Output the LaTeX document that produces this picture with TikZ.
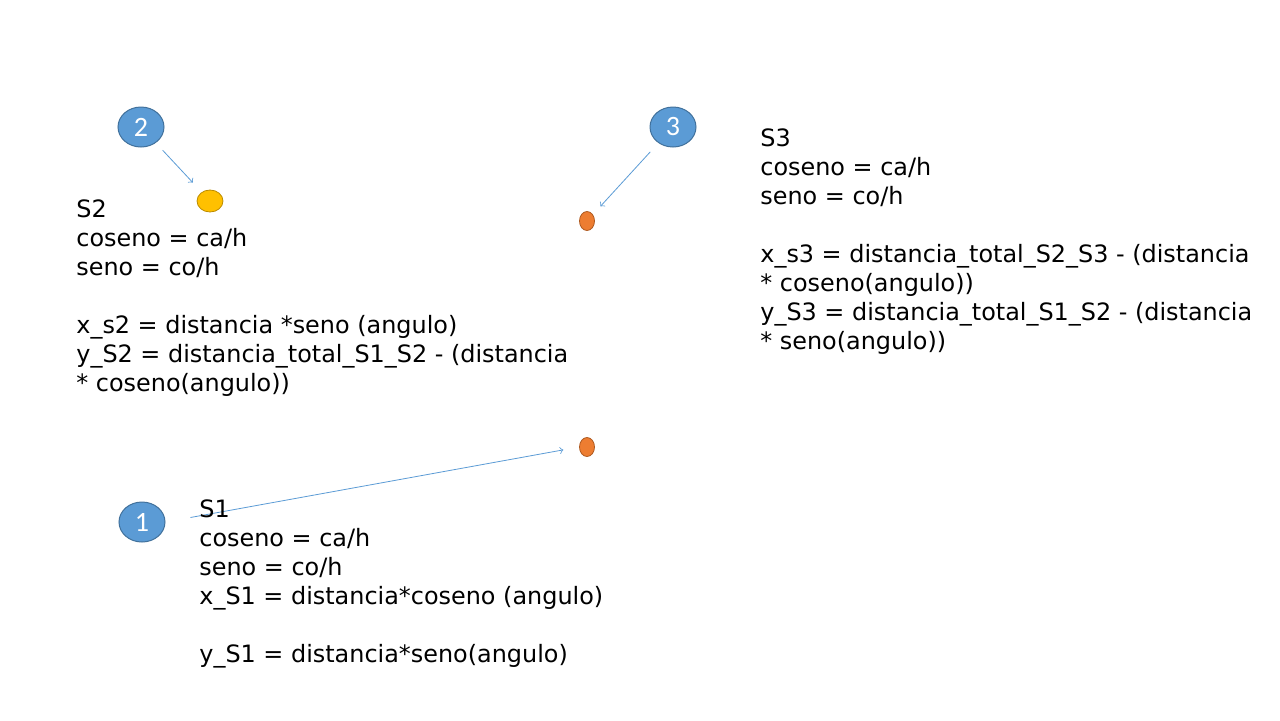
\documentclass[tikz,border=0pt]{standalone}
\usepackage{fontspec}
\usetikzlibrary{shapes.geometric}
\setmainfont{DejaVu Sans}
\newfontfamily\numfont{Carlito}
\definecolor{stepblue}{HTML}{5B9BD5}
\definecolor{stepedge}{HTML}{41719C}
\definecolor{sunfill}{HTML}{FFC000}
\definecolor{sunedge}{HTML}{BC8C00}
\definecolor{dotfill}{HTML}{ED7D31}
\definecolor{dotedge}{HTML}{AE5A21}
\begin{document}
\begin{tikzpicture}[x=0.5pt,y=-0.5pt,
  num/.style={ellipse,draw=stepedge,fill=stepblue,line width=0.5pt,minimum width=23pt,minimum height=20pt,inner sep=0pt,text=white,font=\numfont\fontsize{14}{14}\selectfont},
  dot/.style={ellipse,draw=dotedge,fill=dotfill,line width=0.4pt,minimum width=7.5pt,minimum height=9.5pt,inner sep=0pt},
  eqs/.style={anchor=north west,align=left,inner sep=0pt,font=\fontsize{11.95}{14.5}\selectfont},
  link/.style={->,stepblue,line width=0.4pt}]
\useasboundingbox (0,0) rectangle (1280,720);
\node [num] (n2) at (141,127) {2};
\node [num] (n3) at (673,127) {3};
\node [num] (n1) at (142,522) {1};
\node [ellipse,draw=sunedge,fill=sunfill,line width=0.4pt,minimum width=13pt,minimum height=11pt,inner sep=0pt] (s2) at (210,201) {};
\node [dot] (s3) at (587,221) {};
\node [dot] (s1) at (587,447) {};
\draw [link,shorten <=5pt,shorten >=6.5pt] (n2) -- (s2);
\draw [link,shorten <=6pt,shorten >=5.5pt] (n3) -- (s3);
\draw [link,shorten <=12.7pt,shorten >=8pt] (n1.east) -- (s1.west);
\node [eqs] (t2) at (76,199) {S2\\ coseno = ca/h\\ seno = co/h\\[14.5pt] x\_s2 = distancia *seno (angulo)\\ y\_S2 = distancia\_total\_S1\_S2 - (distancia\\ * coseno(angulo))};
\node [eqs] (t3) at (760,128) {S3\\ coseno = ca/h\\ seno = co/h\\[14.5pt] x\_s3 = distancia\_total\_S2\_S3 - (distancia\\ * coseno(angulo))\\ y\_S3 = distancia\_total\_S1\_S2 - (distancia\\ * seno(angulo))};
\node [eqs] (t1) at (199,499) {S1\\ coseno = ca/h\\ seno = co/h\\ x\_S1 = distancia*coseno (angulo)\\[14.5pt] y\_S1 = distancia*seno(angulo)};
\end{tikzpicture}
\end{document}
